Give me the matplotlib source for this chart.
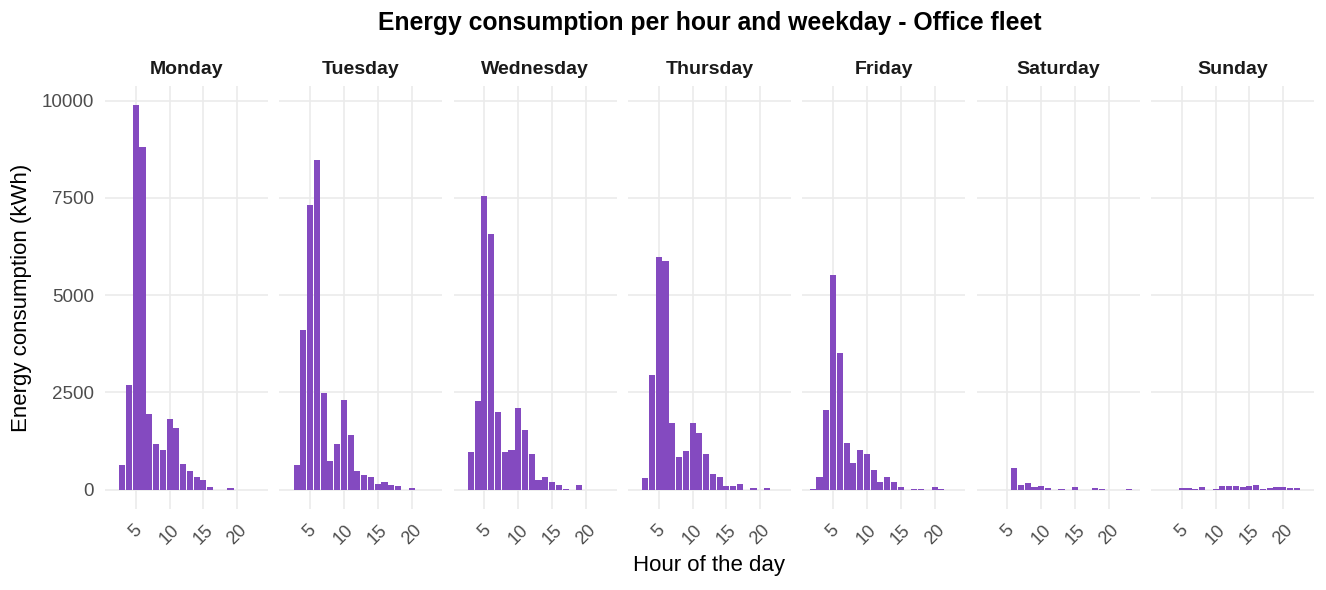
import matplotlib
matplotlib.use("Agg")
import matplotlib.pyplot as plt
import numpy as np

plt.rcParams['font.family'] = ['Liberation Sans', 'DejaVu Sans']

days = ["Monday", "Tuesday", "Wednesday", "Thursday", "Friday", "Saturday", "Sunday"]
hours = list(range(2, 24))

monday    = [0, 630, 2680, 9880, 8800, 1940, 1170, 1010, 1810, 1580, 650, 470, 320, 240, 60, 0, 0, 35, 0, 0, 0, 0]
tuesday   = [0, 630, 4100, 7310, 8470, 2480, 750, 1170, 2300, 1420, 470, 390, 340, 160, 190, 110, 85, 0, 35, 0, 0, 0]
wednesday = [0, 960, 2270, 7540, 6570, 2010, 960, 1010, 2090, 1530, 910, 240, 340, 190, 110, 20, 0, 110, 0, 0, 0, 0]
thursday  = [0, 300, 2950, 5980, 5880, 1710, 840, 990, 1710, 1460, 920, 400, 330, 95, 95, 145, 0, 45, 0, 45, 0, 0]
friday    = [20, 340, 2040, 5510, 3510, 1190, 700, 1010, 910, 500, 210, 320, 190, 60, 0, 20, 20, 0, 60, 20, 0, 0]
saturday  = [0, 0, 0, 0, 560, 120, 170, 70, 95, 45, 0, 20, 0, 70, 0, 0, 45, 20, 0, 0, 0, 20]
sunday    = [0, 0, 0, 45, 45, 20, 70, 0, 20, 95, 95, 95, 70, 95, 120, 20, 45, 70, 70, 45, 45, 0]

series = [monday, tuesday, wednesday, thursday, friday, saturday, sunday]
xticks = [5, 10, 15, 20]
yticks = [0, 2500, 5000, 7500, 10000]
ytick_labels = ["0", "2500", "5000", "7500", "10000"]

W, H = 1326, 590
fig = plt.figure(figsize=(W / 100, H / 100), dpi=100)

bar_color = "#844AC0"
grid_color = "#EBEBEB"

left_px, panel_w, step = 105, 163, 174.33
top_px, bot_px = 86, 509

bw = 0.9
xmin = min(hours) - bw / 2
xmax = max(hours) + bw / 2
xr = xmax - xmin
xlim = (xmin - 0.05 * xr, xmax + 0.05 * xr)
ymax = max(max(s) for s in series)
ylim = (-0.05 * ymax, ymax * 1.05)

for i, (day, vals) in enumerate(zip(days, series)):
    x0 = left_px + i * step
    ax = fig.add_axes([x0 / W, 1 - bot_px / H, panel_w / W, (bot_px - top_px) / H])
    ax.set_axisbelow(True)
    ax.bar(hours, vals, width=bw, color=bar_color, linewidth=0)
    ax.set_xlim(*xlim)
    ax.set_ylim(*ylim)
    ax.set_xticks(xticks)
    ax.set_xticklabels([str(t) for t in xticks], rotation=45, ha='center', va='top',
                       fontsize=13, color="#4D4D4D")
    ax.set_yticks(yticks)
    if i == 0:
        ax.set_yticklabels(ytick_labels, fontsize=13.5, color="#4D4D4D")
    else:
        ax.set_yticklabels([])
    ax.tick_params(axis='both', length=0)
    ax.tick_params(axis='x', pad=9)
    ax.tick_params(axis='y', pad=8)
    ax.grid(True, color=grid_color, linewidth=1.2)
    for sp in ax.spines.values():
        sp.set_visible(False)
    ax.set_facecolor("white")
    ax.text(0.5, 1 + (top_px - 69) / (bot_px - top_px), day, transform=ax.transAxes,
            ha='center', va='center', fontsize=14, fontweight='bold', color="#1A1A1A")

center_x = (left_px + 6 * step + panel_w + left_px) / 2 / W
fig.text(center_x, 1 - 23 / H, "Energy consumption per hour and weekday - Office fleet",
         ha='center', va='center', fontsize=17.8, fontweight='bold', color='black')
fig.text(center_x, 1 - 566 / H, "Hour of the day", ha='center', va='center',
         fontsize=16, color='black')
fig.text(22 / W, 1 - ((top_px + bot_px) / 2) / H, "Energy consumption (kWh)",
         ha='center', va='center', rotation=90, fontsize=16, color='black')

fig.savefig("out.png", dpi=100, facecolor="white")
